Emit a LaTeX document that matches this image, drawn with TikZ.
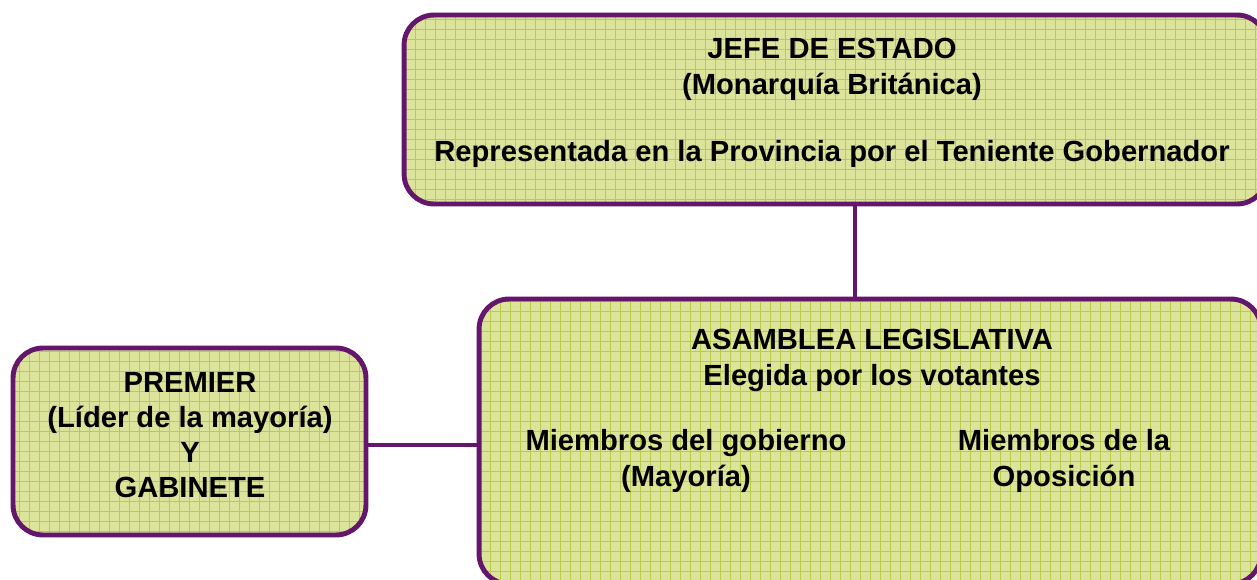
\documentclass[tikz,border=0pt]{standalone}
\usepackage{fontspec}
\setmainfont{Liberation Sans}
\usetikzlibrary{positioning}
\definecolor{morado}{RGB}{100,22,108}
\definecolor{verdecaja}{RGB}{220,228,156}
\definecolor{verdelinea}{RGB}{184,204,72}
\tikzset{
	caja/.style={draw=morado,line width=2.8pt,rounded corners=0.6cm,fill=verdecaja,inner sep=0pt,
		path picture={\draw[verdelinea,line width=0.45pt,step=0.2cm]
			(path picture bounding box.south west) grid (path picture bounding box.north east);}},
	texto/.style={font=\bfseries\fontsize{16.6}{20.5}\selectfont,align=center,inner sep=0pt},
	enlace/.style={draw=morado,line width=2.8pt}
}

\begin{document}
\begin{tikzpicture}[x=0.02cm,y=-0.02cm]
	\useasboundingbox (0,0) rectangle (1257,579);
	\clip (0,0) rectangle (1257,579);

	% Cajas
	\node [caja,minimum width=17.26cm,minimum height=3.78cm] (cajaJefe) at (835.5,109.5) {};
	\node [caja,minimum width=15.64cm,minimum height=5.7cm] (cajaAsamblea) at (870,441.5) {};
	\node [caja,minimum width=7.06cm,minimum height=3.74cm] (cajaPremier) at (189.5,441.5) {};
	\coordinate (cruce) at (855,250);

	% Enlaces
	\draw [enlace] (cajaJefe.south -| cruce) -- (cajaAsamblea.north -| cruce);
	\draw [enlace] (cajaPremier.east |- 0,445) -- (cajaAsamblea.west |- 0,445);

	% Textos
	\node [texto] (jefe) at (832,103) {JEFE DE ESTADO\\(Monarquía Británica)\\[18pt]Representada en la Provincia por el Teniente Gobernador};
	\node [texto] (asamblea) at (872,360) {ASAMBLEA LEGISLATIVA\\Elegida por los votantes};
	\node [texto] (gobierno) at (686,461) {Miembros del gobierno\\(Mayoría)};
	\node [texto] (oposicion) at (1064,461) {Miembros de la\\Oposición};
	\node [texto,font=\bfseries\fontsize{16.6}{19.8}\selectfont] (premier) at (190,435) {PREMIER\\(Líder de la mayoría)\\Y\\GABINETE};
\end{tikzpicture}
\end{document}
